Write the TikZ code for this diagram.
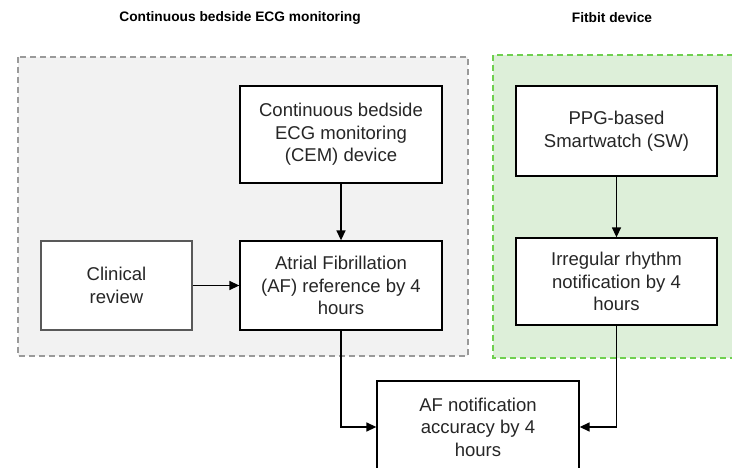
\documentclass[tikz,border=0pt]{standalone}
\usepackage{fontspec}
\setmainfont{Liberation Sans}
\usetikzlibrary{arrows.meta}
\definecolor{grayfill}{HTML}{F2F2F2}
\definecolor{grayedge}{HTML}{9A9A9A}
\definecolor{greenfill}{HTML}{DDEFD9}
\definecolor{greenedge}{HTML}{6FD04F}
\definecolor{txt}{HTML}{262626}
\tikzset{
  x=1bp, y=-1bp,
  box/.style={draw=black, line width=1.3bp, fill=white, rectangle, align=center, inner sep=2bp,
    text=txt, font=\fontsize{18.6}{22.5}\selectfont},
  title/.style={font=\bfseries\fontsize{13.8}{16}\selectfont, text=black},
  arr/.style={line width=1.4bp, -{Triangle[length=10bp,width=9bp]}},
  grp/.style={dashed, dash pattern=on 6bp off 4bp, line width=1.2bp}
}
\begin{document}
\begin{tikzpicture}
\useasboundingbox (0,0) rectangle (732,468);
\clip (0,0) rectangle (732,468);
% groups
\draw[grp, draw=grayedge, fill=grayfill] (18,57) rectangle (468,356);
\draw[grp, draw=greenedge, fill=greenfill] (493,55) rectangle (745,358);
% titles
\node[title] (t1) at (240,18) {Continuous bedside ECG monitoring};
\node[title] (t2) at (612,18) {Fitbit device};
% boxes
\node[box, minimum width=202bp, minimum height=97bp] (cem) at (341,134.5)
  {Continuous bedside\\ECG monitoring\\(CEM) device};
\node[box, minimum width=202bp, minimum height=89bp] (af) at (341,285.5)
  {Atrial Fibrillation\\(AF) reference by 4\\hours};
\node[box, draw=gray!70!black, minimum width=151bp, minimum height=89bp] (cr) at (116.5,285.5)
  {Clinical\\review};
\node[box, minimum width=201bp, minimum height=90bp] (ppg) at (616.5,131)
  {PPG-based\\Smartwatch (SW)};
\node[box, minimum width=201bp, minimum height=87bp] (irr) at (616.5,281.5)
  {Irregular rhythm\\notification by 4\\hours};
\node[box, minimum width=202bp, minimum height=92bp] (acc) at (478,427)
  {AF notification\\accuracy by 4\\hours};
% connectors
\draw[arr] (cem.south) -- (af.north);
\draw[arr] (cr.east) -- (af.west);
\draw[arr] (ppg.south) -- (irr.north);
\draw[arr] (af.south) |- (acc.west);
\draw[arr] (irr.south) |- (acc.east);
\end{tikzpicture}
\end{document}
